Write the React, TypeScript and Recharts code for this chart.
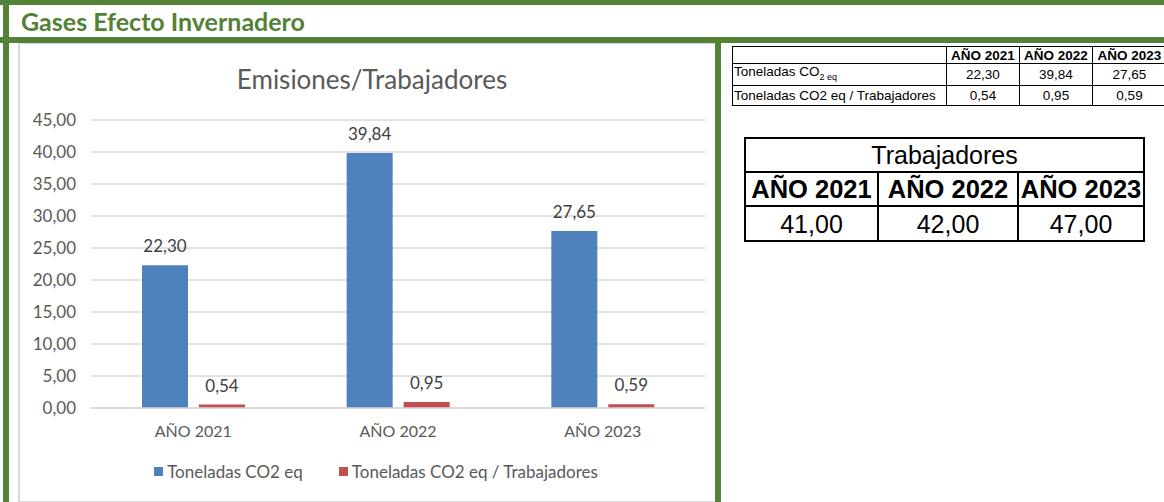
import React from 'react';
import { BarChart, Bar, XAxis, YAxis, CartesianGrid, Legend, LabelList } from 'recharts';

const categories = ['AÑO 2021', 'AÑO 2022', 'AÑO 2023'];
const toneladas = [22.3, 39.84, 27.65];
const porTrabajador = [0.54, 0.95, 0.59];
const trabajadores = [41, 42, 47];
const yTicks = [0, 5, 10, 15, 20, 25, 30, 35, 40, 45];
const seriesNames = ['Toneladas CO2 eq', 'Toneladas CO2 eq / Trabajadores'];
const seriesColors = ['#4F81BD', '#C0504D'];

const data = categories.map((c, i) => ({ name: c, t: toneladas[i], r: porTrabajador[i] }));
const fmt = (v: number) => Number(v).toFixed(2).replace('.', ',');

const GREEN = '#538135';
const FONT = 'Lato, "Open Sans", sans-serif';
const ARIAL = '"Liberation Sans", Arial, sans-serif';

const LegendContent = (props: any) => {
  const payload = props.payload || [];
  return (
    <div style={{ display: 'flex', justifyContent: 'center', alignItems: 'center', height: 20, fontFamily: FONT, fontSize: 17, color: '#595959', paddingLeft: 16 }}>
      {payload.map((p: any, i: number) => (
        <div key={i} style={{ display: 'flex', alignItems: 'center', marginRight: i === 0 ? 36 : 0 }}>
          <span style={{ display: 'inline-block', width: 9, height: 9, background: p.color, marginRight: 4 }} />
          <span>{p.value}</span>
        </div>
      ))}
    </div>
  );
};

const cell1: React.CSSProperties = { border: '1px solid #000', padding: 0, textAlign: 'center', fontFamily: ARIAL, fontSize: 13.5, lineHeight: '15px', whiteSpace: 'nowrap' };
const cell2: React.CSSProperties = { border: '2px solid #000', padding: 0, textAlign: 'center', fontFamily: ARIAL, fontSize: 25, lineHeight: '28px', whiteSpace: 'nowrap' };

export default function App() {
  return (
    <div style={{ position: 'absolute', left: 0, top: 0, width: 1164, height: 502, background: '#fff', overflow: 'hidden' }}>
      {/* green frame */}
      <div style={{ position: 'absolute', left: 0, top: 0, width: 1164, height: 5, background: GREEN }} />
      <div style={{ position: 'absolute', left: 3, top: 0, width: 6, height: 502, background: GREEN }} />
      <div style={{ position: 'absolute', left: 0, top: 37, width: 1164, height: 6, background: GREEN }} />
      <div style={{ position: 'absolute', left: 21, top: 5, height: 32, lineHeight: '32px', fontFamily: FONT, fontWeight: 700, fontSize: 25, color: GREEN, whiteSpace: 'nowrap' }}>
        Gases Efecto Invernadero
      </div>
      {/* chart box */}
      <div style={{ position: 'absolute', left: 18, top: 43, width: 697, height: 457, borderLeft: '2px solid #d9d9d9', borderBottom: '2px solid #d9d9d9', borderTop: '1px solid #d9d9d9' }} />
      <div style={{ position: 'absolute', left: 715, top: 43, width: 6, height: 459, background: GREEN }} />
      <div style={{ position: 'absolute', left: 19, top: 44 }}>
        <div style={{ position: 'absolute', left: 0, top: 20, width: 706, textAlign: 'center', fontFamily: FONT, fontSize: 26, color: '#595959', lineHeight: '30px' }}>
          Emisiones/Trabajadores
        </div>
        <BarChart width={696} height={457} data={data} margin={{ top: 76, right: 10, left: 12, bottom: 20 }} barSize={46} barGap={11}>
          <CartesianGrid vertical={false} stroke="#d9d9d9" strokeWidth={1.5} />
          <XAxis dataKey="name" height={53} tickLine={false} axisLine={{ stroke: '#d9d9d9', strokeWidth: 1.5 }} tickMargin={12}
            tick={{ fill: '#595959', fontSize: 16, fontFamily: FONT }} />
          <YAxis width={60} domain={[0, 45]} ticks={yTicks} axisLine={false} tickLine={false} tickMargin={9}
            tickFormatter={fmt} tick={{ fill: '#595959', fontSize: 17, fontFamily: FONT }} />
          <Legend verticalAlign="bottom" content={<LegendContent />} />
          <Bar dataKey="t" name={seriesNames[0]} fill={seriesColors[0]} isAnimationActive={false}>
            <LabelList dataKey="t" position="top" offset={13} formatter={fmt} style={{ fill: '#404040', fontSize: 17, fontFamily: FONT }} />
          </Bar>
          <Bar dataKey="r" name={seriesNames[1]} fill={seriesColors[1]} isAnimationActive={false}>
            <LabelList dataKey="r" position="top" offset={13} formatter={fmt} style={{ fill: '#404040', fontSize: 17, fontFamily: FONT }} />
          </Bar>
        </BarChart>
      </div>
      {/* table 1 */}
      <table style={{ position: 'absolute', left: 732, top: 46, borderCollapse: 'collapse', tableLayout: 'fixed', width: 434 }}>
        <colgroup>
          <col style={{ width: 214 }} /><col style={{ width: 73 }} /><col style={{ width: 73 }} /><col style={{ width: 74 }} />
        </colgroup>
        <tbody>
          <tr style={{ height: 17 }}>
            <td style={cell1}></td>
            {categories.map((c) => <td key={c} style={{ ...cell1, fontWeight: 700 }}>{c}</td>)}
          </tr>
          <tr style={{ height: 19 }}>
            <td style={{ ...cell1, textAlign: 'left', paddingLeft: 1 }}>Toneladas CO<sub style={{ fontSize: 9 }}>2 eq</sub></td>
            {toneladas.map((v, i) => <td key={i} style={cell1}>{fmt(v)}</td>)}
          </tr>
          <tr style={{ height: 20 }}>
            <td style={{ ...cell1, textAlign: 'left', paddingLeft: 1 }}>{seriesNames[1]}</td>
            {porTrabajador.map((v, i) => <td key={i} style={cell1}>{fmt(v)}</td>)}
          </tr>
        </tbody>
      </table>
      {/* table 2 */}
      <table style={{ position: 'absolute', left: 744, top: 137, borderCollapse: 'collapse', tableLayout: 'fixed', width: 399 }}>
        <colgroup>
          <col style={{ width: 133 }} /><col style={{ width: 140 }} /><col style={{ width: 126 }} />
        </colgroup>
        <tbody>
          <tr style={{ height: 34 }}>
            <td colSpan={3} style={cell2}>Trabajadores</td>
          </tr>
          <tr style={{ height: 34 }}>
            {categories.map((c) => <td key={c} style={{ ...cell2, fontWeight: 700, fontSize: 25.5 }}>{c}</td>)}
          </tr>
          <tr style={{ height: 35 }}>
            {trabajadores.map((v, i) => <td key={i} style={{ ...cell2, fontSize: 25 }}>{fmt(v)}</td>)}
          </tr>
        </tbody>
      </table>
    </div>
  );
}
